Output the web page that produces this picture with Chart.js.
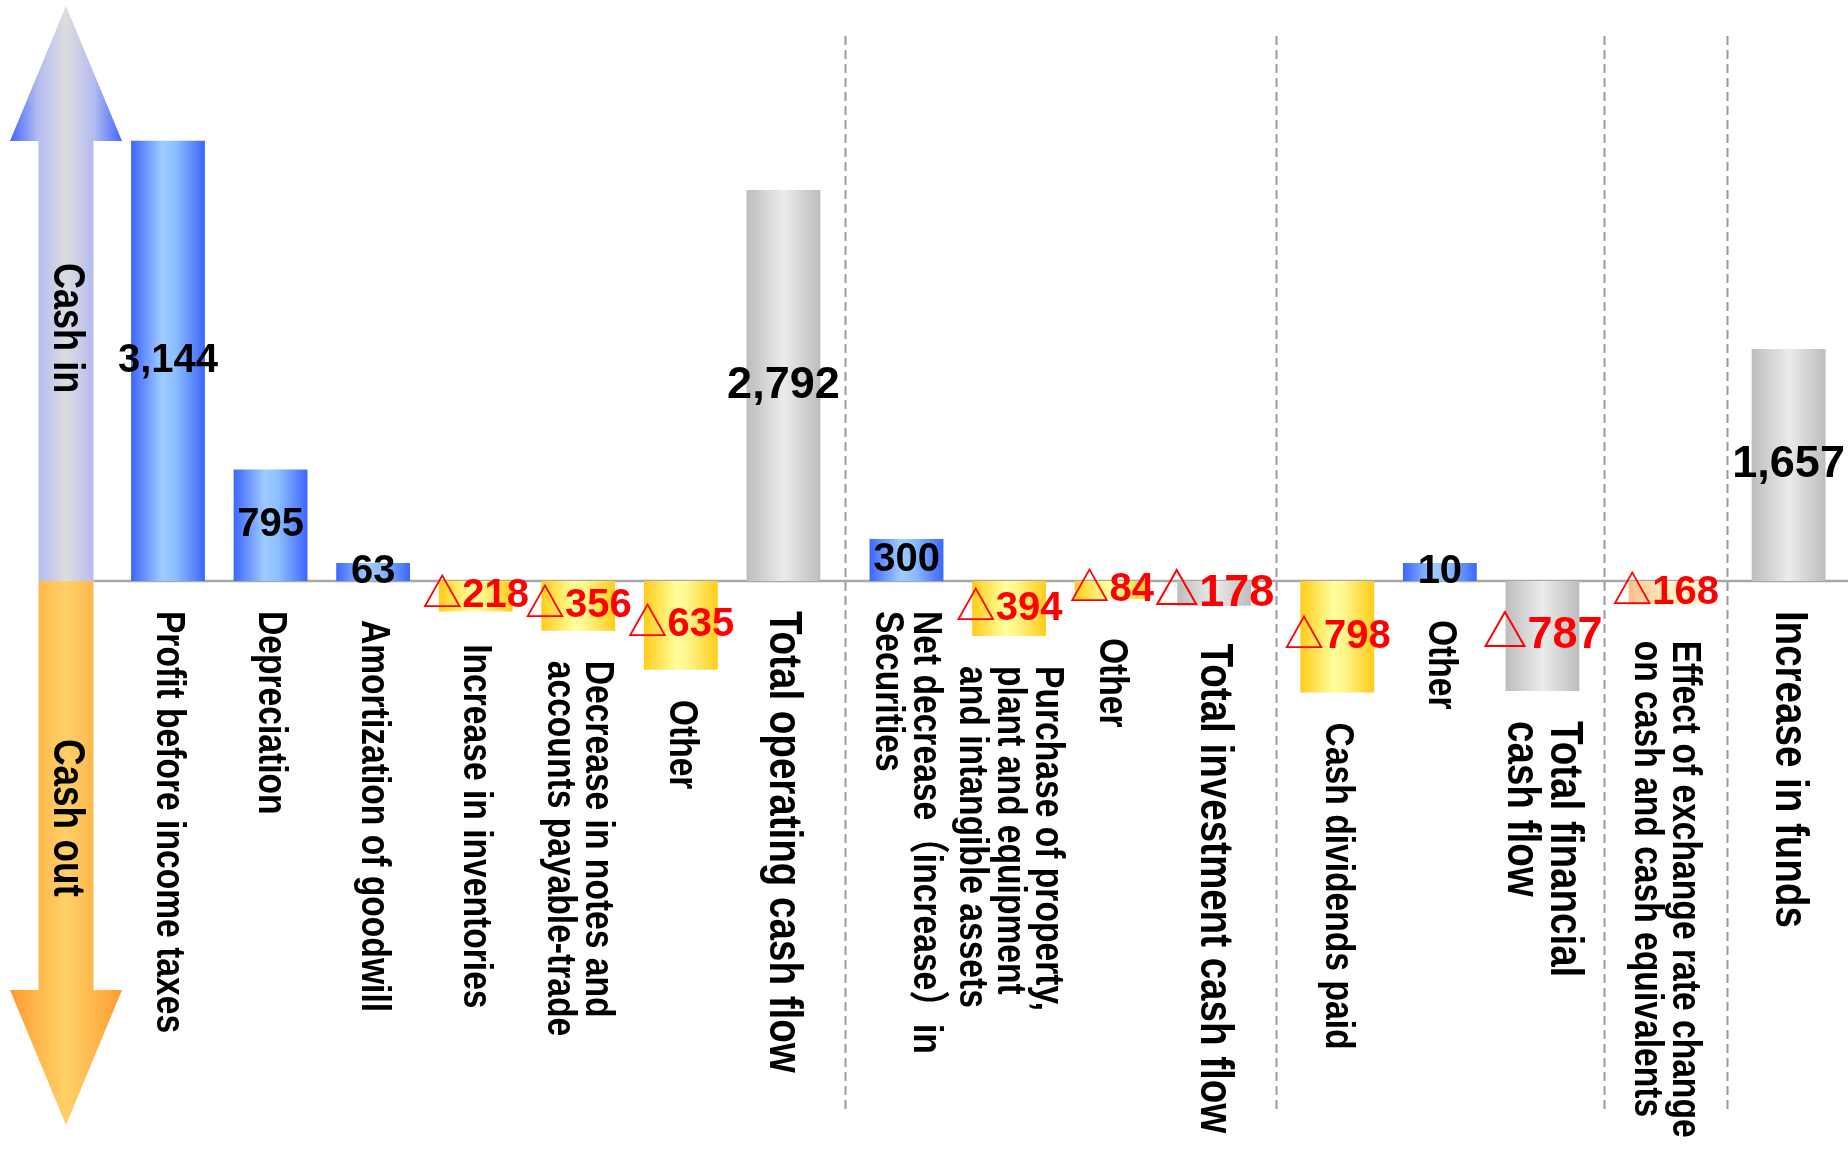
<!DOCTYPE html>
<html>
<head>
<meta charset="utf-8">
<script src="https://cdn.jsdelivr.net/npm/chart.js@4/dist/chart.umd.min.js"></script>
<style>
html,body{margin:0;padding:0;background:#ffffff;overflow:hidden}
#c{display:block}
</style>
</head>
<body>
<canvas id="c" width="1848" height="1152"></canvas>
<script>
// ---------------- data ----------------
const categories = [
  ["Profit before income taxes"],
  ["Depreciation"],
  ["Amortization of goodwill"],
  ["Increase in inventories"],
  ["Decrease in notes and", "accounts payable-trade"],
  ["Other"],
  ["Total operating cash flow"],
  ["Net decrease（increase）in", "Securities"],
  ["Purchase of property,", "plant and equipment", "and intangible assets"],
  ["Other"],
  ["Total investment cash flow"],
  ["Cash dividends paid"],
  ["Other"],
  ["Total financial", "cash flow"],
  ["Effect of exchange rate change", "on cash and cash equivalents"],
  ["Increase in funds"]
];
const values = [3144, 795, 63, -218, -356, -635, 2792, 300, -394, -84, -178, -798, 10, -787, -168, 1657];
const kinds = ["item","item","item","item","item","item","total","item","item","item","total","item","item","total","fx","total"];
const sections = [0,0,0,0,0,0,0,1,1,1,1,2,2,2,3,4];
const arrowLabels = ["Cash in", "Cash out"];

// ---------------- layout / style ----------------
const SECTION_GAP = 0.2;
const xPos = values.map((v, i) => i + SECTION_GAP * sections[i]);
const BAR_PCT = 0.72;

const GRADS = {
  blue:   [[0,'#3c66ff'],[0.42,'#9fcbff'],[0.6,'#8cbfff'],[1,'#3c66ff']],
  yellow: [[0,'#ffcc1a'],[0.45,'#ffff9c'],[0.6,'#fff58a'],[1,'#ffcc1a']],
  gray:   [[0,'#bdbdbd'],[0.5,'#ebebeb'],[1,'#bdbdbd']],
  peach:  [[0,'#f8c08a'],[0.55,'#fff0c2'],[1,'#fff6cf']]
};
function colorKey(i){
  if (kinds[i] === 'total') return 'gray';
  if (kinds[i] === 'fx') return 'peach';
  return values[i] >= 0 ? 'blue' : 'yellow';
}
function barGradient(c){
  const i = c.dataIndex;
  const stops = GRADS[colorKey(i === undefined ? 0 : i)];
  const chart = c.chart;
  const xs = chart.scales && chart.scales.x;
  if (c.type !== 'data' || !xs) return stops[0][1];
  const cx = xs.getPixelForValue(xPos[i]);
  const hw = (xs.getPixelForValue(1) - xs.getPixelForValue(0)) * BAR_PCT / 2;
  if (!isFinite(cx) || !isFinite(hw) || hw <= 0) return stops[0][1];
  const g = chart.ctx.createLinearGradient(cx - hw, 0, cx + hw, 0);
  stops.forEach(s => g.addColorStop(s[0], s[1]));
  return g;
}

function hasFont(name){
  const c = document.createElement('canvas').getContext('2d');
  const s = 'Profit before income taxes';
  c.font = 'bold 40px monospace';
  const a = c.measureText(s).width;
  c.font = "bold 40px '" + name + "', monospace";
  const b = c.measureText(s).width;
  return Math.abs(a - b) > 1;
}
const NARROW = hasFont('Liberation Sans Narrow');
const LABEL_FAMILY = NARROW ? "'Liberation Sans Narrow', 'Liberation Sans', 'Noto Sans CJK JP', sans-serif"
                            : "'Liberation Sans', 'Noto Sans CJK JP', sans-serif";
const LABEL_SX = NARROW ? 1 : 0.82;
const VALUE_FAMILY = "'Liberation Sans', 'Noto Sans CJK JP', sans-serif";

const ARROW = {cx: 66, shaft: 27.5, head: 56, upTip: 6, upBase: 141, downBase: 990, downTip: 1125};

function drawArrow(ctx, y0, up){
  const a = ARROW;
  const tip = up ? a.upTip : a.downTip;
  const hb = up ? a.upBase : a.downBase;
  ctx.beginPath();
  ctx.moveTo(a.cx - a.shaft, y0);
  ctx.lineTo(a.cx - a.shaft, hb);
  ctx.lineTo(a.cx - a.head, hb);
  ctx.lineTo(a.cx, tip);
  ctx.lineTo(a.cx + a.head, hb);
  ctx.lineTo(a.cx + a.shaft, hb);
  ctx.lineTo(a.cx + a.shaft, y0);
  ctx.closePath();
  const g = ctx.createLinearGradient(a.cx - a.head, 0, a.cx + a.head, 0);
  const st = up
    ? [[0,'#3f66ff'],[0.25,'#b4bcf0'],[0.5,'#dcdce0'],[0.75,'#b4bcf0'],[1,'#3f66ff']]
    : [[0,'#ff9a2e'],[0.25,'#ffb84c'],[0.5,'#ffd068'],[0.75,'#ffb84c'],[1,'#ff9a2e']];
  st.forEach(s => g.addColorStop(s[0], s[1]));
  ctx.fillStyle = g;
  ctx.fill();
}

function drawRotated(ctx, lines, x, yStart, size, sx, family){
  ctx.save();
  ctx.translate(x, yStart);
  ctx.rotate(Math.PI / 2);
  ctx.scale(sx, 1);
  ctx.font = 'bold ' + size + 'px ' + family;
  ctx.fillStyle = '#000000';
  ctx.textAlign = 'left';
  ctx.textBaseline = 'middle';
  const lh = size * 0.93;
  lines.forEach((ln, k) => {
    const ly = -((lines.length - 1) / 2) * lh + k * lh;
    ctx.fillText(ln, 0, ly);
  });
  ctx.restore();
}

const decor = {
  id: 'decor',
  beforeDatasetsDraw(chart){
    const ctx = chart.ctx, xs = chart.scales.x, ys = chart.scales.y;
    const y0 = ys.getPixelForValue(0);
    ctx.save();
    drawArrow(ctx, y0, true);
    drawArrow(ctx, y0, false);
    ctx.strokeStyle = '#a8a8a8';
    ctx.lineWidth = 2.5;
    ctx.beginPath();
    ctx.moveTo(ARROW.cx + ARROW.shaft, y0);
    ctx.lineTo(chart.chartArea.right, y0);
    ctx.stroke();
    ctx.setLineDash([9, 5]);
    ctx.strokeStyle = '#9c9c9c';
    ctx.lineWidth = 2;
    for (let i = 1; i < values.length; i++){
      if (sections[i] !== sections[i - 1]){
        const x = Math.round((xs.getPixelForValue(xPos[i - 1]) + xs.getPixelForValue(xPos[i])) / 2) + 0.5;
        ctx.beginPath();
        ctx.moveTo(x, chart.chartArea.top + 36);
        ctx.lineTo(x, chart.chartArea.bottom - 38);
        ctx.stroke();
      }
    }
    ctx.restore();
    drawRotated(ctx, [arrowLabels[0]], ARROW.cx, y0 - 318, 44, LABEL_SX, LABEL_FAMILY);
    drawRotated(ctx, [arrowLabels[1]], ARROW.cx, y0 + 158, 45, LABEL_SX, LABEL_FAMILY);
  },
  afterDatasetsDraw(chart){
    const ctx = chart.ctx;
    const y0 = chart.scales.y.getPixelForValue(0);
    const meta = chart.getDatasetMeta(0);
    meta.data.forEach((bar, i) => {
      const v = values[i];
      const big = kinds[i] === 'total';
      const vSize = big ? 45 : 40;
      const top = Math.min(bar.y, bar.base), bottom = Math.max(bar.y, bar.base);
      const midY = (top + bottom) / 2;
      const txt = v < 0 ? '△' + Math.abs(v).toLocaleString('en-US') : v.toLocaleString('en-US');
      ctx.save();
      ctx.font = 'bold ' + vSize + 'px ' + VALUE_FAMILY;
      ctx.fillStyle = v < 0 ? '#ff0000' : '#000000';
      ctx.textAlign = 'center';
      ctx.textBaseline = 'middle';
      ctx.fillText(txt, bar.x, midY);
      ctx.restore();
      const labelBottom = midY + vSize * 0.45;
      const start = Math.max(y0, bottom, labelBottom) + 30;
      drawRotated(ctx, categories[i], bar.x, start, big ? 47 : 41, LABEL_SX, LABEL_FAMILY);
    });
  }
};

new Chart(document.getElementById('c'), {
  type: 'bar',
  data: {
    datasets: [{
      data: values.map((v, i) => ({x: xPos[i], y: v})),
      backgroundColor: barGradient,
      borderWidth: 0,
      barPercentage: BAR_PCT,
      categoryPercentage: 1,
      minBarLength: 18
    }]
  },
  options: {
    responsive: false,
    animation: false,
    devicePixelRatio: 1,
    layout: {padding: 0},
    plugins: {legend: {display: false}, tooltip: {enabled: false}},
    scales: {
      x: {type: 'linear', min: -1.6379, max: 16.379, display: false, offset: false},
      y: {min: -4080, max: 4150, display: false}
    }
  },
  plugins: [decor]
});
</script>
</body>
</html>
